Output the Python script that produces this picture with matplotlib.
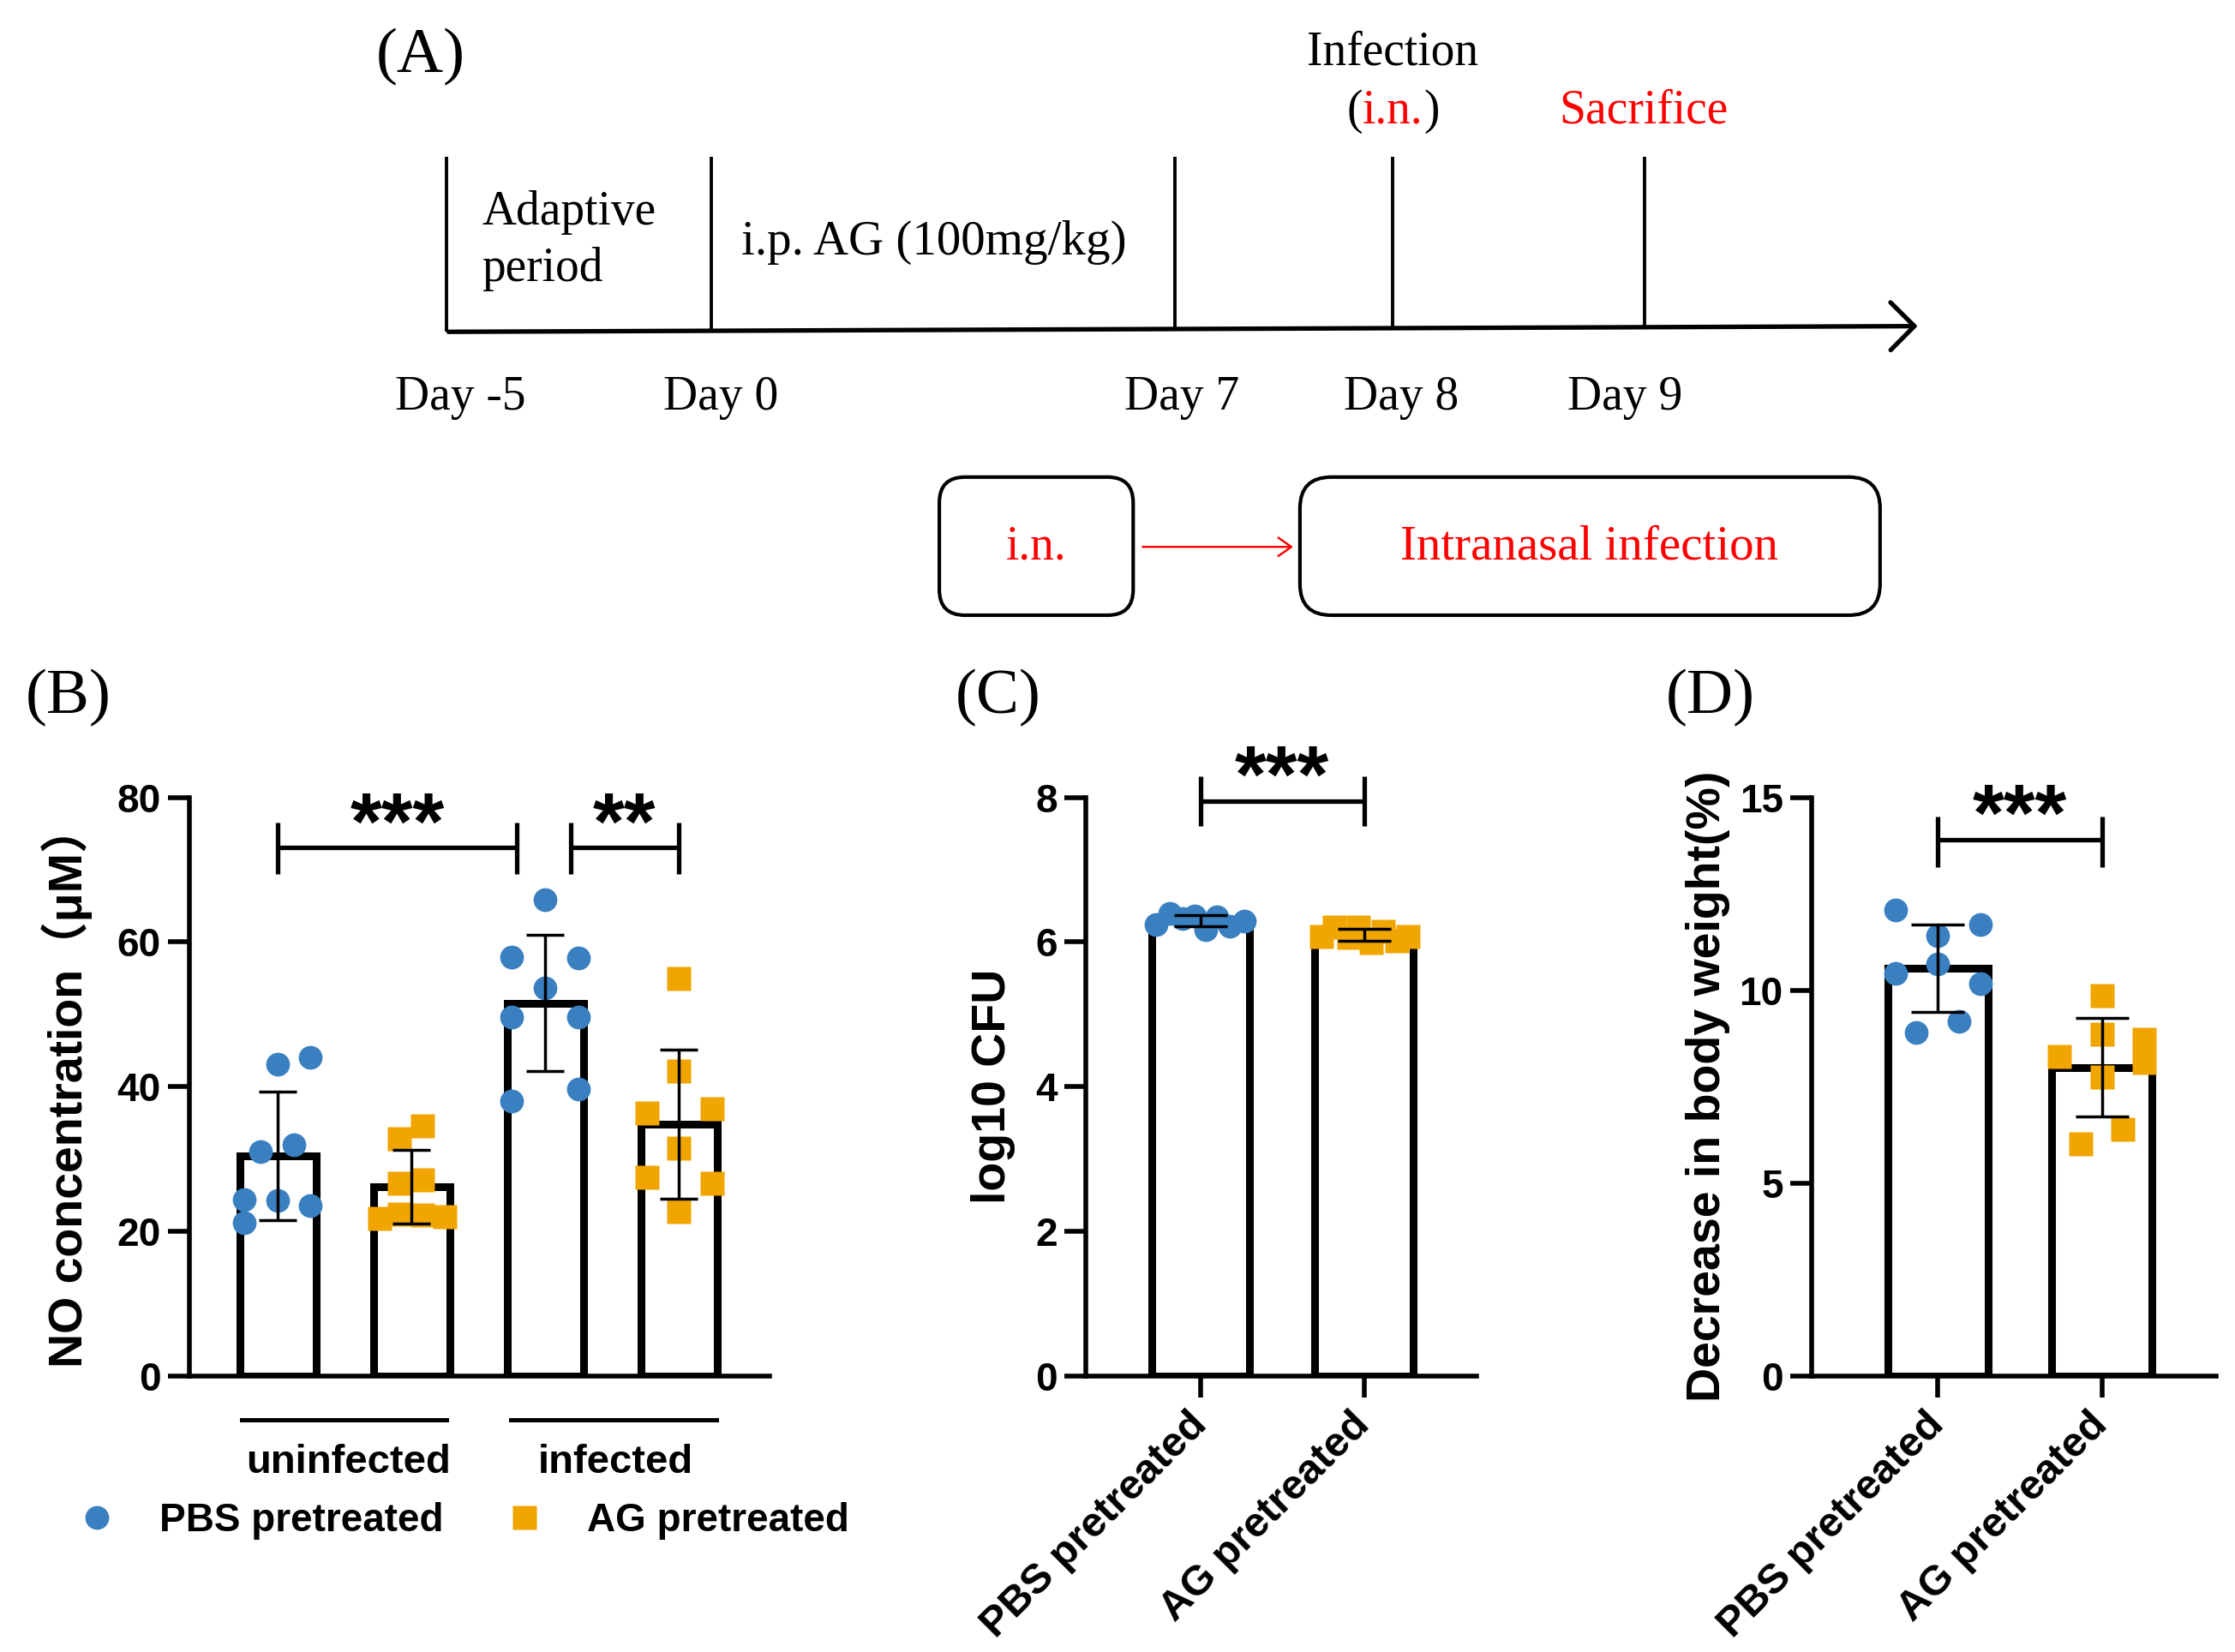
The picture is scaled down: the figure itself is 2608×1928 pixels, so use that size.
import numpy as np
import matplotlib
matplotlib.use('Agg')
import matplotlib.pyplot as plt
from matplotlib.patches import FancyArrowPatch, FancyBboxPatch
from matplotlib.lines import Line2D

plt.rcParams['font.family'] = ['Liberation Sans', 'Noto Sans CJK SC']
plt.rcParams['font.weight'] = 'bold'
plt.rcParams['axes.labelweight'] = 'bold'

BLUE = '#3A80C1'
ORANGE = '#F0A500'
SERIF = 'Liberation Serif'

# ---------------- data ----------------
# (B) NO concentration (uM)
no_pbs_uninf = [43.1, 44.0, 31.0, 31.9, 24.4, 24.3, 23.5, 21.2]
no_ag_uninf = [32.8, 34.6, 26.6, 27.1, 21.8, 22.4, 22.2, 22.0]
no_pbs_inf = [65.9, 57.9, 57.8, 53.7, 49.6, 49.6, 38.0, 39.7]
no_ag_inf = [54.9, 42.1, 36.3, 36.9, 31.5, 27.5, 26.6, 22.7]
group_labels = ['uninfected', 'infected']

# (C) log10 CFU
cfu_pbs = [6.24, 6.40, 6.33, 6.36, 6.17, 6.35, 6.22, 6.29]
cfu_ag = [6.08, 6.21, 6.21, 5.99, 6.15, 6.02, 6.08, 6.06]

# (D) decrease in body weight (%)
bw_pbs = [12.08, 11.70, 11.42, 10.68, 10.43, 10.18, 8.91, 9.19]
bw_ag = [9.85, 8.86, 8.28, 8.73, 8.12, 7.74, 6.01, 6.39]

treat_labels = ['PBS pretreated', 'AG pretreated']

# (A) timeline
day_labels = ['Day -5', 'Day 0', 'Day 7', 'Day 8', 'Day 9']

# point scatter offsets (layout only)
jit_b = [[0, .24, -.13, .12, -.25, 0, .24, -.25],
         [-.09, .08, -.09, .08, -.24, -.09, .08, .25],
         [0, -.25, .25, 0, -.25, .25, -.25, .25],
         [0, 0, -.24, .25, 0, -.24, .25, 0]]
jit_c = [[-.27, -.19, -.11, -.035, .03, .1, .18, .27],
         [-.26, -.18, -.035, .045, .12, .2, .27, -.09]]
jit_d = [[-.26, .26, 0, 0, -.26, .26, -.13, .13],
         [0, 0, -.26, .26, .26, 0, -.13, .13]]

# ---------------- figure ----------------
W, H = 1568, 1160
fig = plt.figure(figsize=(26.08, 19.28), dpi=100)


def fx(x):
    return x / W


def fy(y):
    return 1 - y / H


########################## (A) timeline ##########################
tl = fig.add_axes([0, 0, 1, 1])
tl.set_xlim(0, W)
tl.set_ylim(H, 0)
tl.axis('off')

ev_x = [313, 499, 824, 977, 1154]
lab_x = [323, 506, 829, 983, 1140]


def line_y(x):
    return 233 - 4 * (x - 313) / (1345 - 313)


tl.add_patch(FancyArrowPatch((313, 233), (1347, 229),
                             arrowstyle='->,head_length=0.5,head_width=0.5',
                             mutation_scale=40, lw=3.8, color='black'))
for x, lab, lx in zip(ev_x, day_labels, lab_x):
    tl.plot([x, x], [110, line_y(x)], color='black', lw=2.8, solid_capstyle='butt')
    tl.text(lx, 279, lab, ha='center', va='center', family=SERIF, weight='normal', size=40)

tl.text(338, 169, 'Adaptive\nperiod', ha='left', va='center', family=SERIF,
        weight='normal', size=40, linespacing=1.34)
tl.text(520, 170, 'i.p. AG (100mg/kg)', ha='left', va='center', family=SERIF,
        weight='normal', size=41)
tl.text(977, 37, 'Infection', ha='center', va='center', family=SERIF, weight='normal', size=40)
tl.text(977, 78, 'i.n.', ha='center', va='center', family=SERIF, weight='normal', size=40, color='red')
tl.text(956, 78, '(', ha='right', va='center', family=SERIF, weight='normal', size=40)
tl.text(999, 78, ')', ha='left', va='center', family=SERIF, weight='normal', size=40)
tl.text(1153, 78, 'Sacrifice', ha='center', va='center', family=SERIF, weight='normal',
        size=40, color='red')

tl.add_patch(FancyBboxPatch((659, 335), 136, 97, boxstyle='round,pad=0,rounding_size=18',
                            fc='none', ec='black', lw=3))
tl.add_patch(FancyBboxPatch((912, 335), 407, 97, boxstyle='round,pad=0,rounding_size=22',
                            fc='none', ec='black', lw=3))
tl.text(727, 384, 'i.n.', ha='center', va='center', family=SERIF, weight='normal', size=40, color='red')
tl.text(1115, 384, 'Intranasal infection', ha='center', va='center', family=SERIF,
        weight='normal', size=41, color='red')
tl.add_patch(FancyArrowPatch((800, 384), (909, 384), arrowstyle='->,head_length=0.5,head_width=0.35',
                             mutation_scale=22, lw=1.8, color='red', linestyle=(0, (0.6, 0.6))))

fig.text(fx(295), fy(40), '(A)', ha='center', va='center', family=SERIF, weight='normal', size=54)
fig.text(fx(48), fy(490), '(B)', ha='center', va='center', family=SERIF, weight='normal', size=54)
fig.text(fx(700), fy(490), '(C)', ha='center', va='center', family=SERIF, weight='normal', size=54)
fig.text(fx(1200), fy(490), '(D)', ha='center', va='center', family=SERIF, weight='normal', size=54)


########################## bar panels ##########################
def style(ax, ylim, yticks):
    for s in ['top', 'right']:
        ax.spines[s].set_visible(False)
    for s in ['left', 'bottom']:
        ax.spines[s].set_linewidth(4)
    ax.set_ylim(*ylim)
    ax.set_yticks(yticks)
    ax.tick_params(axis='y', width=4, length=18, labelsize=33, pad=6)
    for lab in ax.get_yticklabels():
        lab.set_fontweight('bold')


def bars(ax, groups, jits, markers, colors, width, capsize):
    x = np.arange(len(groups))
    means = [np.mean(g) for g in groups]
    sds = [np.std(g, ddof=1) for g in groups]
    ax.bar(x, means, width=width, facecolor='white', edgecolor='black', lw=6.5, zorder=1)
    for i, (g, j, m, c) in enumerate(zip(groups, jits, markers, colors)):
        ax.plot(i + np.array(j), g, ls='none', marker=m, markersize=20, color=c, mec='none',
                zorder=2, clip_on=False)
    ax.errorbar(x, means, yerr=sds, fmt='none', ecolor='black', elinewidth=2.5,
                capsize=capsize, capthick=2.5, zorder=3)


def bracket(ax, x1, x2, y, lo, hi, text, ty, fs=68):
    kw = dict(color='black', lw=3.8, clip_on=False, solid_capstyle='butt')
    ax.plot([x1, x2], [y, y], **kw)
    ax.plot([x1, x1], [lo, hi], **kw)
    ax.plot([x2, x2], [lo, hi], **kw)
    ax.annotate(text, xy=((x1 + x2) / 2, ty), xytext=(0, -0.49 * fs), textcoords='offset points',
                ha='center', va='baseline', size=fs, weight='bold', annotation_clip=False)


# ---- (B)
ax_b = fig.add_axes([fx(133), fy(966), fx(540) - fx(133), fy(560) - fy(966)])
style(ax_b, (0, 80), [0, 20, 40, 60, 80])
bars(ax_b, [no_pbs_uninf, no_ag_uninf, no_pbs_inf, no_ag_inf], jit_b,
     ['o', 's', 'o', 's'], [BLUE, ORANGE, BLUE, ORANGE], 0.57, 16)
ax_b.set_xlim(-0.66, 3.68)
ax_b.set_xticks([])
ax_b.set_ylabel('NO concentration（μM）', size=40, weight='bold')
ax_b.yaxis.set_label_coords(-0.211, 0.5)
ax_b.yaxis.label.set_va('center')
bracket(ax_b, 0, 1.79, 73.1, 69.4, 76.5, '***', 78.4)
bracket(ax_b, 2.19, 3.0, 73.1, 69.4, 76.5, '**', 78.4)
for (x1, x2), lab, lx in zip([(-0.27, 1.26), (1.74, 3.28)], group_labels, [0.53, 2.53]):
    ax_b.plot([x1, x2], [-6.1, -6.1], color='black', lw=3.6, clip_on=False)
    ax_b.text(lx, -12.0, lab, ha='center', va='center', size=34, weight='bold')

handles = [Line2D([], [], ls='none', marker='o', markersize=20, color=BLUE, mec='none'),
           Line2D([], [], ls='none', marker='s', markersize=20, color=ORANGE, mec='none')]
fig.legend(handles, treat_labels, loc='center', bbox_to_anchor=(fx(325), fy(1068)), ncol=2,
           frameon=False, handlelength=1.0, handletextpad=1.1, columnspacing=1.55,
           prop=dict(family='Liberation Sans', weight='bold', size=33))

# ---- (C)
ax_c = fig.add_axes([fx(762), fy(966), fx(1036) - fx(762), fy(560) - fy(966)])
style(ax_c, (0, 8), [0, 2, 4, 6, 8])
bars(ax_c, [cfu_pbs, cfu_ag], jit_c, ['o', 's'], [BLUE, ORANGE], 0.6, 22)
ax_c.set_xlim(-0.7, 1.69)
ax_c.set_ylabel('log10 CFU', size=40, weight='bold')
ax_c.yaxis.set_label_coords(-0.237, 0.5)
ax_c.yaxis.label.set_va('center')
bracket(ax_c, 0, 1, 7.95, 7.6, 8.29, '***', 8.49)

# ---- (D)
ax_d = fig.add_axes([fx(1271), fy(966), fx(1555) - fx(1271), fy(560) - fy(966)])
style(ax_d, (0, 15), [0, 5, 10, 15])
bars(ax_d, [bw_pbs, bw_ag], jit_d, ['o', 's'], [BLUE, ORANGE], 0.61, 22)
ax_d.set_xlim(-0.77, 1.7)
ax_d.set_ylabel('Decrease in body weight(%)', size=40, weight='bold')
ax_d.yaxis.set_label_coords(-0.257, 0.5)
ax_d.yaxis.label.set_va('center')
bracket(ax_d, 0, 1, 13.9, 13.2, 14.5, '***', 14.92)

for ax in (ax_c, ax_d):
    ax.set_xticks([0, 1])
    ax.set_xticklabels(treat_labels, rotation=45, ha='right', va='center',
                       rotation_mode='anchor', size=35, weight='bold')
    ax.tick_params(axis='x', width=4, length=18, pad=18)

fig.savefig('out.png', dpi=100)
